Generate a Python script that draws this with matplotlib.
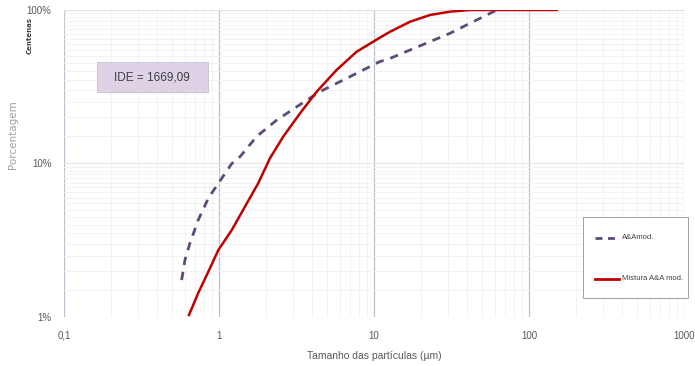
import matplotlib.pyplot as plt
from matplotlib.ticker import FixedLocator, LogLocator, NullFormatter
from matplotlib.lines import Line2D

plt.rcParams['font.family'] = ['Liberation Sans Narrow', 'Liberation Sans', 'DejaVu Sans']

# Mistura A&A mod. (tamanho em µm, % passante)
mist_x = [0.64, 0.734, 0.853, 0.99, 1.21, 1.47, 1.79, 2.13, 2.60, 3.33, 4.27, 5.74, 7.73,
          10.9, 12.7, 17.1, 23.0, 30.9, 41.6, 151]
mist_y = [1.03, 1.43, 1.97, 2.73, 3.69, 5.23, 7.43, 10.8, 15.0, 21.2, 29.4, 40.7, 53.5,
          66.0, 72.2, 83.9, 92.8, 97.5, 100, 100]

# A&Amod.
aa_x = [0.574, 0.603, 0.649, 0.734, 0.853, 0.99, 1.21, 1.37, 1.75, 2.36, 3.17, 4.48, 6.34, 8.53,
        10.9, 12.7, 17.1, 23.0, 30.9, 41.6, 50.7, 61.9]
aa_y = [1.74, 2.35, 3.02, 4.28, 5.93, 7.43, 10.0, 11.1, 15.0, 19.2, 23.4, 29.4, 35.0, 40.7,
        46.1, 48.4, 54.9, 62.2, 70.5, 81.9, 90.4, 100]

x_ticks = [0.1, 1, 10, 100, 1000]
x_labels = ['0,1', '1', '10', '100', '1000']
y_ticks = [1, 10, 100]
y_labels = ['1%', '10%', '100%']

W, H = 695, 366
fig = plt.figure(figsize=(W / 100, H / 100), dpi=100)
ax = fig.add_axes([64 / W, 1 - 317 / H, (684 - 64) / W, (317 - 10) / H])

ax.set_xscale('log')
ax.set_yscale('log')
ax.set_xlim(0.1, 1000)
ax.set_ylim(1, 100)

txt = '#595959'
ax.xaxis.set_major_locator(FixedLocator(x_ticks))
ax.set_xticklabels(x_labels)
ax.yaxis.set_major_locator(FixedLocator(y_ticks))
ax.set_yticklabels(y_labels)
ax.xaxis.set_minor_locator(LogLocator(base=10, subs=range(2, 10)))
ax.yaxis.set_minor_locator(LogLocator(base=10, subs=[i / 2 for i in range(2, 20)]))
ax.xaxis.set_minor_formatter(NullFormatter())
ax.yaxis.set_minor_formatter(NullFormatter())
ax.tick_params(which='both', length=0, labelsize=7, labelcolor=txt)
ax.tick_params(axis='x', pad=10)
ax.tick_params(axis='y', pad=9)

ax.grid(which='major', axis='x', color='#b8c0cc', linewidth=0.9)
ax.grid(which='major', axis='y', color='#e4e4e4', linewidth=0.8)
ax.grid(which='minor', color='#f0f0f0', linewidth=0.6)
for s in ax.spines.values():
    s.set_visible(False)
ax.axhline(100, color='#e0e0e0', linewidth=0.8)

ax.plot(aa_x, aa_y, color='#604a7b', linewidth=2, linestyle=(0, (3, 2.5)), zorder=3)
ax.plot(mist_x, mist_y, color='#c00000', linewidth=1.8, zorder=4)

ax.set_xlabel('Tamanho das partículas (µm)', fontsize=7.5, color=txt, labelpad=7)
fig.text(13 / W, 1 - 135 / H, 'Porcentagem', rotation=90, fontsize=7.5, color='#a0a0a0',
         ha='center', va='center', family=['DejaVu Sans'])
fig.text(30 / W, 1 - 36 / H, 'Centenas', rotation=90, fontsize=5, color='#404040',
         ha='center', va='center', fontweight='bold', family=['DejaVu Sans'])

# caixa IDE
fig.patches.append(plt.Rectangle((97 / W, 1 - 92 / H), 111 / W, 30 / H, transform=fig.transFigure,
                                 facecolor='#ddd2e6', edgecolor='#c8c0cc', linewidth=0.6, zorder=5))
fig.text(152 / W, 1 - 77 / H, 'IDE = 1669,09', fontsize=8.5, color='#404040',
         ha='center', va='center', zorder=6)

# legenda
fig.patches.append(plt.Rectangle((583 / W, 1 - 298 / H), 105 / W, 81 / H, transform=fig.transFigure,
                                 facecolor='white', edgecolor='#a0a0a0', linewidth=0.7, zorder=5))
fig.lines.append(Line2D([595 / W, 617 / W], [1 - 238 / H] * 2, transform=fig.transFigure,
                        color='#604a7b', linewidth=2, linestyle=(0, (2.5, 2)), zorder=6))
fig.text(622 / W, 1 - 238 / H, 'A&Amod.', fontsize=5.5, color='#404040', va='center', zorder=6)
fig.lines.append(Line2D([595 / W, 619 / W], [1 - 279 / H] * 2, transform=fig.transFigure,
                        color='#c00000', linewidth=2, zorder=6))
fig.text(622 / W, 1 - 279 / H, 'Mistura A&A mod.', fontsize=5.5, color='#404040', va='center', zorder=6)

fig.savefig('out.png', dpi=100)
